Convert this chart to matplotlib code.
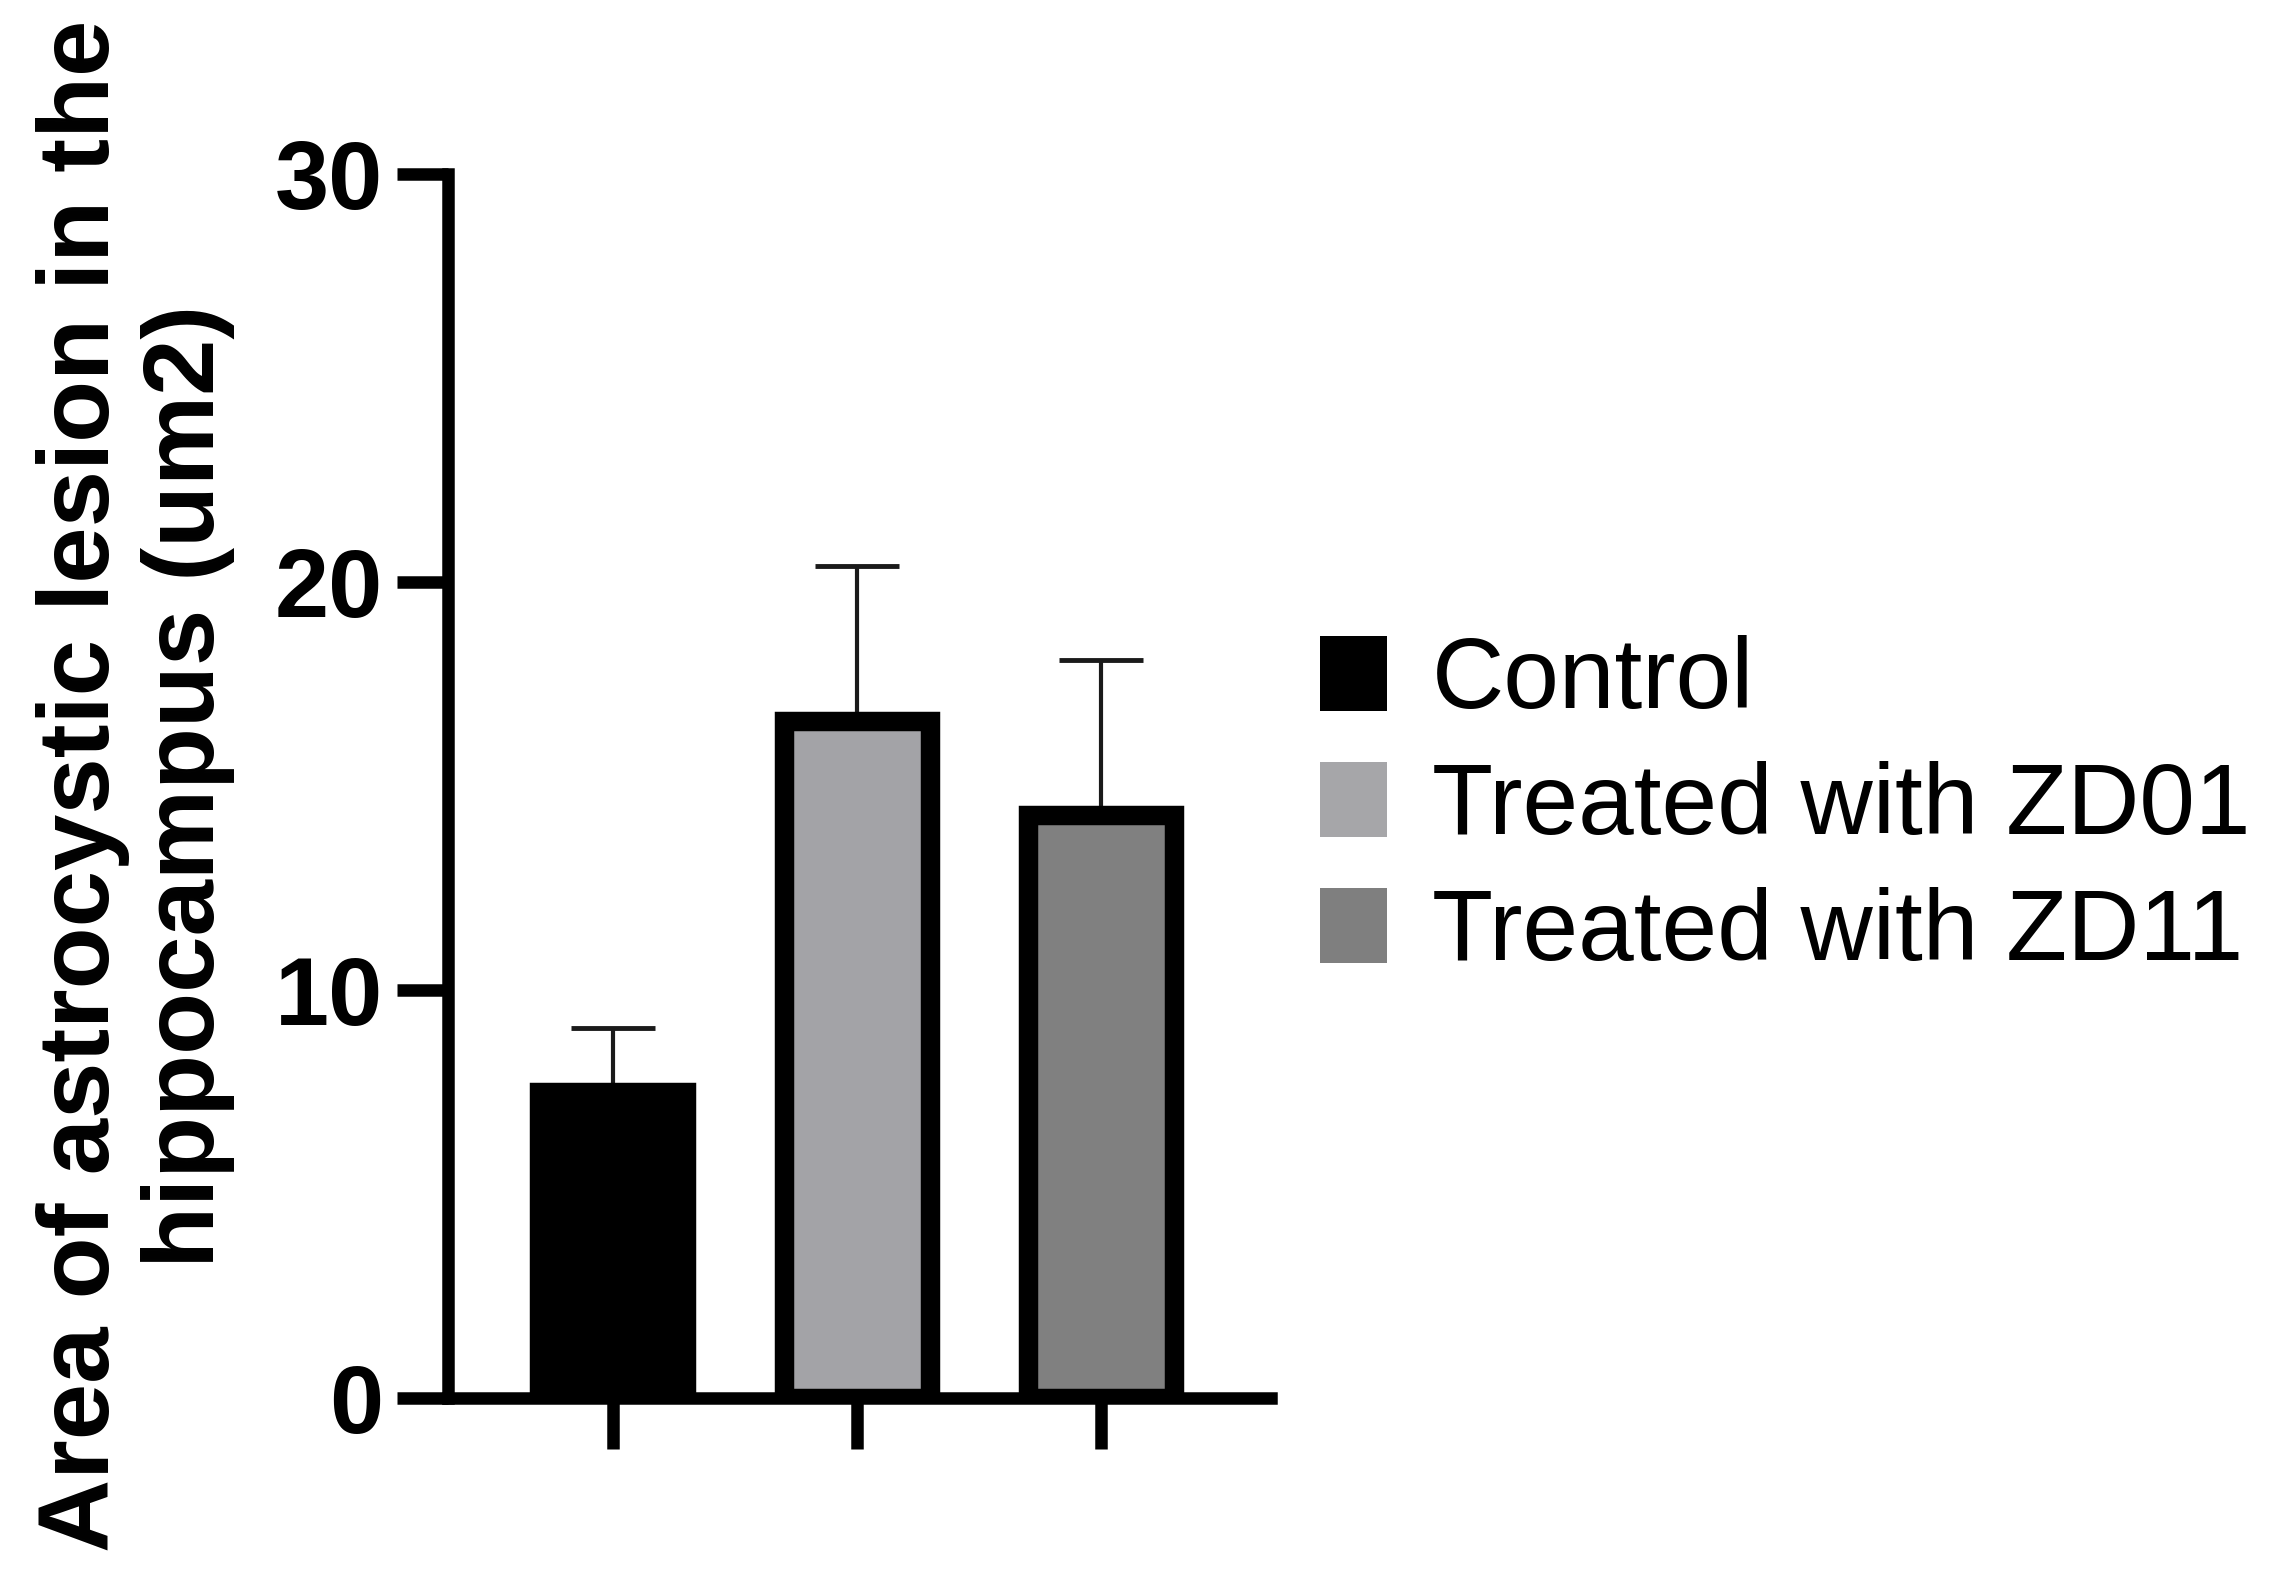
import numpy as np
import matplotlib
matplotlib.use("Agg")
import matplotlib.pyplot as plt
from matplotlib.patches import Patch

plt.rcParams['font.family'] = ['Liberation Sans', 'DejaVu Sans']

# data
groups = ['Control', 'Treated with ZD01', 'Treated with ZD11']
means = [7.5, 16.6, 14.3]
sem_up = [1.57, 3.8, 3.8]
fills = ['#000000', '#a3a3a7', '#808080']
legend_fills = ['#000000', '#a6a6a9', '#7f7f7f']
yticks = [0, 10, 20, 30]
ylabel = 'Area of astrocystic lesion in the\nhippocampus (um2)'

fig = plt.figure(figsize=(22.72, 15.71), dpi=100)
ax = fig.add_axes([0.1972, 0.1101, 0.3622, 0.7791])

x = np.arange(len(groups))
bars = ax.bar(x, means, width=0.60, color=fills, edgecolor='black',
              linewidth=14, zorder=3)
for b in bars:
    b.set_joinstyle('miter')

ax.errorbar(x, means, yerr=[np.zeros(len(means)), sem_up], fmt='none',
            ecolor='#1a1a1a', elinewidth=3, capsize=30, capthick=3.5, zorder=2)

ax.set_xlim(-0.674, 2.695)
ax.set_ylim(0, 30)
ax.set_yticks(yticks)
ax.set_xticks(x)
ax.set_xticklabels([])
for s in ['top', 'right']:
    ax.spines[s].set_visible(False)
for s in ['left', 'bottom']:
    ax.spines[s].set_linewidth(9)
ax.tick_params(axis='both', length=37, width=9, direction='out')
ax.tick_params(axis='y', labelsize=70, pad=10)
for lab in ax.get_yticklabels():
    lab.set_fontweight('bold')

ax.set_ylabel(ylabel, fontsize=73, fontweight='bold', linespacing=1.15,
              ha='center', va='center')
ax.yaxis.set_label_coords(-0.380, 0.5)

handles = [Patch(facecolor=c, edgecolor='none') for c in legend_fills]
fig.legend(handles, groups, loc='upper left', bbox_to_anchor=(0.581, 0.5955),
           frameon=False, fontsize=72, handlelength=0.67, handleheight=0.77,
           handletextpad=0.45, labelspacing=0.32, borderpad=0, borderaxespad=0)

fig.savefig('out.png', dpi=100, facecolor='white')
